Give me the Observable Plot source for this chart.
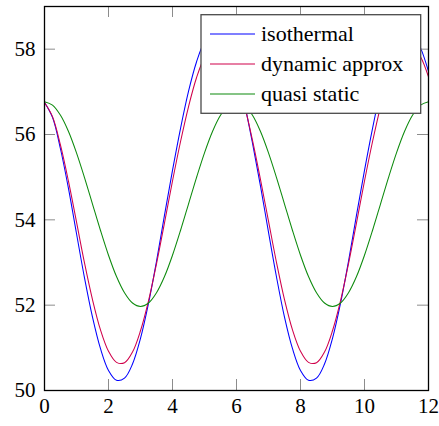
<!DOCTYPE html>
<html>
<head>
<meta charset="utf-8">
<script src="https://cdn.jsdelivr.net/npm/d3@7"></script>
<script src="https://cdn.jsdelivr.net/npm/@observablehq/plot@0.6"></script>
<style>
  html, body { margin: 0; padding: 0; background: white; }
  #wrap { position: relative; width: 439px; height: 426px; }
  #legend { position: absolute; left: 0; top: 0; pointer-events: none; }
  #wrap svg, #wrap svg text {
    font-family: "Liberation Serif", "Times New Roman", Times, Tinos, "DejaVu Serif", serif !important;
  }
</style>
</head>
<body>
<div id="wrap"></div>
<script>
const xs = [0,0.25,0.5,0.75,1,1.25,1.5,1.75,2,2.25,2.5,2.75,3,3.25,3.5,3.75,4,4.25,4.5,4.75,5,5.25,5.5,5.75,
            6,6.25,6.5,6.75,7,7.25,7.5,7.75,8,8.25,8.5,8.75,9,9.25,9.5,9.75,10,10.25,10.5,10.75,11,11.25,11.5,11.75,12];

const isothermal = [56.75,56.40,55.66,54.73,53.68,52.64,51.72,50.98,50.47,50.24,50.29,50.62,51.22,52.04,53.03,54.11,55.16,56.14,57.01,57.70,58.18,58.40,58.35,58.03,
                    57.48,56.72,55.80,54.79,53.71,52.66,51.72,50.98,50.47,50.24,50.29,50.62,51.22,52.04,53.03,54.11,55.16,56.14,57.01,57.70,58.18,58.40,58.35,58.03,57.48];

const dynamicApprox = [56.75,56.42,55.75,54.90,53.95,52.99,52.13,51.42,50.92,50.66,50.65,50.90,51.40,52.10,52.97,53.93,54.91,55.83,56.65,57.33,57.81,58.06,58.06,57.82,
                       57.35,56.68,55.86,54.94,53.97,53.00,52.13,51.42,50.92,50.66,50.65,50.90,51.40,52.10,52.97,53.93,54.91,55.83,56.65,57.33,57.81,58.06,58.06,57.82,57.35];

const quasiStatic = [56.77,56.69,56.45,56.07,55.57,54.99,54.37,53.75,53.17,52.67,52.29,52.05,51.97,52.05,52.29,52.67,53.17,53.75,54.37,54.99,55.57,56.07,56.45,56.69,
                     56.77,56.69,56.45,56.07,55.57,54.99,54.37,53.75,53.17,52.67,52.29,52.05,51.97,52.05,52.29,52.67,53.17,53.75,54.37,54.99,55.57,56.07,56.45,56.69,56.77];

const seriesNames = ["isothermal", "dynamic approx", "quasi static"];
const seriesColors = ["#0000ff", "#d0004a", "#0c8a0c"];
const xTicks = [0, 2, 4, 6, 8, 10, 12];
const yTicks = [50, 52, 54, 56, 58];

const W = 439, H = 426;
const mL = 44, mR = 11, mT = 6, mB = 36;
const innerW = W - mL - mR, innerH = H - mT - mB;
const tickLen = 11;
const serif = '"Liberation Serif", "Times New Roman", Times, Tinos, "DejaVu Serif", serif';

const seriesData = [isothermal, dynamicApprox, quasiStatic];
const lineMarks = seriesData.map((ys, k) =>
  Plot.line(xs.map((x, i) => ({x, y: ys[i]})), {
    x: "x", y: "y", stroke: seriesColors[k], strokeWidth: 1.05, curve: "catmull-rom"
  })
);

const tickColor = "#8c8c8c";
const chart = Plot.plot({
  width: W, height: H,
  marginLeft: mL, marginRight: mR, marginTop: mT, marginBottom: mB,
  x: {domain: [0, 12]},
  y: {domain: [50, 59]},
  style: {fontFamily: serif, fontSize: "21px", background: "white", color: "black", overflow: "visible"},
  marks: [
    ...lineMarks,
    Plot.tickX(xTicks, {x: d => d, insetBottom: innerH - tickLen, stroke: tickColor, strokeWidth: 1}),
    Plot.tickX(xTicks, {x: d => d, insetTop: innerH - tickLen, stroke: tickColor, strokeWidth: 1}),
    Plot.tickY(yTicks, {y: d => d, insetRight: innerW - tickLen, stroke: tickColor, strokeWidth: 1}),
    Plot.tickY(yTicks, {y: d => d, insetLeft: innerW - tickLen, stroke: tickColor, strokeWidth: 1}),
    Plot.axisX(xTicks, {tickSize: 0, tickPadding: 8, fontSize: 21, fontFamily: serif, label: null, fill: "black"}),
    Plot.axisY(yTicks, {tickSize: 0, tickPadding: 9, fontSize: 21, fontFamily: serif, label: null, fill: "black"}),
    Plot.frame({stroke: "black", strokeWidth: 1.3})
  ]
});
document.getElementById("wrap").appendChild(chart);

// Legend (inside plot area, top right)
const ns = "http://www.w3.org/2000/svg";
const lg = document.createElementNS(ns, "svg");
lg.setAttribute("id", "legend");
lg.setAttribute("width", W);
lg.setAttribute("height", H);
const box = {x: 201, y: 14.7, w: 219.7, h: 98.6};
const rect = document.createElementNS(ns, "rect");
rect.setAttribute("x", box.x); rect.setAttribute("y", box.y);
rect.setAttribute("width", box.w); rect.setAttribute("height", box.h);
rect.setAttribute("fill", "white"); rect.setAttribute("stroke", "#4a4a4a"); rect.setAttribute("stroke-width", 1.3);
lg.appendChild(rect);
seriesNames.forEach((name, k) => {
  const cy = 34 + 30 * k;
  const ln = document.createElementNS(ns, "line");
  ln.setAttribute("x1", 210); ln.setAttribute("x2", 255);
  ln.setAttribute("y1", cy); ln.setAttribute("y2", cy);
  ln.setAttribute("stroke", seriesColors[k]); ln.setAttribute("stroke-width", 1.1);
  lg.appendChild(ln);
  const t = document.createElementNS(ns, "text");
  t.setAttribute("x", 261); t.setAttribute("y", cy + 7);
  t.setAttribute("font-family", serif);
  t.setAttribute("font-size", 22);
  t.setAttribute("fill", "black");
  t.textContent = name;
  lg.appendChild(t);
});
document.getElementById("wrap").appendChild(lg);
</script>
</body>
</html>
